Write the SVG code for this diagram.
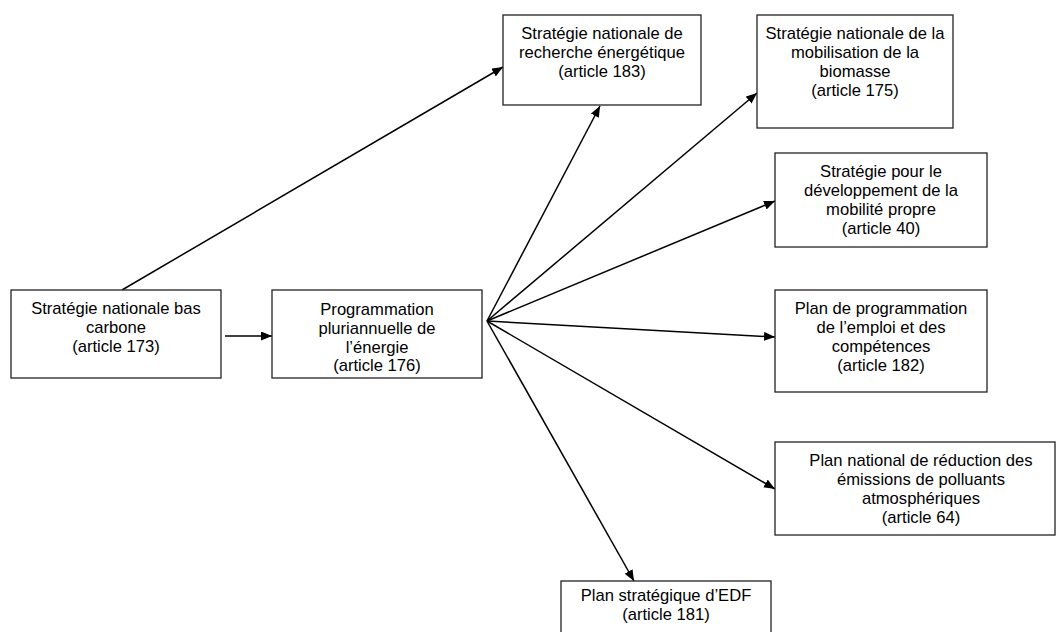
<svg xmlns="http://www.w3.org/2000/svg" width="1056" height="632" viewBox="0 0 1056 632">
<style>
.box{fill:#fff;stroke:#222;stroke-width:1.3}
.t{font-family:"Liberation Sans",Arial,sans-serif;font-size:16.6px;fill:#000;text-anchor:middle}
.c{stroke:#000;stroke-width:1.5;fill:none;marker-end:url(#ah)}
</style>
<defs>
<marker id="ah" markerUnits="userSpaceOnUse" markerWidth="12" markerHeight="10" refX="11" refY="4.5" orient="auto">
<path d="M0,0 L11,4.5 L0,9 z" fill="#000"/>
</marker>
</defs>
<rect width="1056" height="632" fill="#fff"/>
<g id="connectors">
<line class="c" x1="122" y1="290" x2="503" y2="67"/>
<line class="c" x1="225" y1="336" x2="272" y2="336"/>
<line class="c" x1="487" y1="321" x2="600" y2="106"/>
<line class="c" x1="487" y1="321" x2="757" y2="93"/>
<line class="c" x1="487" y1="321" x2="775" y2="201"/>
<line class="c" x1="487" y1="321" x2="775" y2="337"/>
<line class="c" x1="487" y1="321" x2="775" y2="489"/>
<line class="c" x1="487" y1="321" x2="634" y2="581"/>
</g>
<g id="snbc">
<rect class="box" x="11" y="290" width="210" height="88"/>
<text class="t" x="116" y="314">Stratégie nationale bas</text>
<text class="t" x="116" y="333">carbone</text>
<text class="t" x="116" y="352">(article 173)</text>
</g>
<g id="ppe">
<rect class="box" x="272" y="290" width="210" height="88"/>
<text class="t" x="377" y="314.5">Programmation</text>
<text class="t" x="377" y="333.5">pluriannuelle de</text>
<text class="t" x="377" y="352.5">l’énergie</text>
<text class="t" x="377" y="371">(article 176)</text>
</g>
<g id="snre">
<rect class="box" x="503" y="15" width="198" height="90"/>
<text class="t" x="602" y="39">Stratégie nationale de</text>
<text class="t" x="602" y="58">recherche énergétique</text>
<text class="t" x="602" y="77">(article 183)</text>
</g>
<g id="snmb">
<rect class="box" x="757" y="15" width="196" height="113"/>
<text class="t" x="855" y="39">Stratégie nationale de la</text>
<text class="t" x="855" y="58">mobilisation de la</text>
<text class="t" x="855" y="77">biomasse</text>
<text class="t" x="855" y="96">(article 175)</text>
</g>
<g id="mobilite">
<rect class="box" x="775" y="153" width="212" height="94"/>
<text class="t" x="881" y="177">Stratégie pour le</text>
<text class="t" x="881" y="196">développement de la</text>
<text class="t" x="881" y="215">mobilité propre</text>
<text class="t" x="881" y="234">(article 40)</text>
</g>
<g id="emploi">
<rect class="box" x="775" y="290" width="212" height="102"/>
<text class="t" x="881" y="314">Plan de programmation</text>
<text class="t" x="881" y="333">de l’emploi et des</text>
<text class="t" x="881" y="352">compétences</text>
<text class="t" x="881" y="371">(article 182)</text>
</g>
<g id="polluants">
<rect class="box" x="775" y="442" width="280" height="93"/>
<text class="t" x="921" y="466">Plan national de réduction des</text>
<text class="t" x="921" y="485">émissions de polluants</text>
<text class="t" x="921" y="504">atmosphériques</text>
<text class="t" x="921" y="523">(article 64)</text>
</g>
<g id="edf">
<rect class="box" x="561" y="581" width="210" height="70"/>
<text class="t" x="666" y="601">Plan stratégique d’EDF</text>
<text class="t" x="666" y="620">(article 181)</text>
</g>
</svg>
